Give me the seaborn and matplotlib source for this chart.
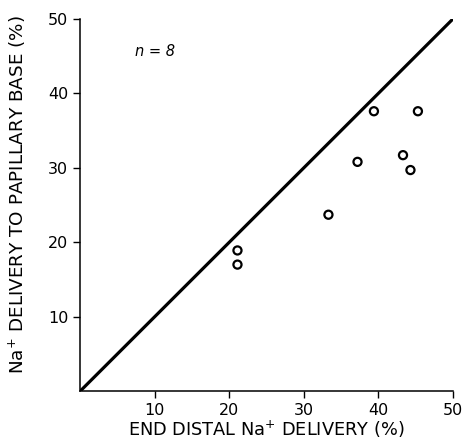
import matplotlib
matplotlib.use("Agg")
import matplotlib.pyplot as plt
import seaborn as sns
import pandas as pd

# end distal delivery (%) vs delivery to papillary base (%)
distal = [39.4, 45.3, 37.2, 43.3, 44.3, 33.3, 21.1, 21.1]
papillary = [37.6, 37.6, 30.8, 31.7, 29.7, 23.7, 18.9, 17.0]
identity = [0, 50]
ticks = [10, 20, 30, 40, 50]

sns.set_style("ticks")
plt.rcParams["font.family"] = ["DejaVu Sans"]
plt.rcParams["mathtext.fontset"] = "dejavusans"

df = pd.DataFrame({"distal": distal, "papillary": papillary})

fig = plt.figure(figsize=(4.66, 4.4), dpi=100)
ax = fig.add_axes([0.172, 0.111, 0.800, 0.846])

sns.lineplot(x=identity, y=identity, color="black", linewidth=2.3, ax=ax)
sns.scatterplot(data=df, x="distal", y="papillary", marker="o", s=34,
                facecolor="none", edgecolor="black", linewidth=1.6, ax=ax,
                zorder=3)

ax.set_xlim(0, 50)
ax.set_ylim(0, 50)
ax.set_xticks(ticks)
ax.set_yticks(ticks)
ax.tick_params(labelsize=11.5, length=5, width=1, colors="black")
sns.despine(ax=ax)
for sp in ax.spines.values():
    sp.set_linewidth(1.1)
    sp.set_color("black")

ax.set_xlabel(r"END DISTAL Na$^{+}$ DELIVERY (%)", fontsize=12.8, color="black")
ax.set_ylabel(r"Na$^{+}$ DELIVERY TO PAPILLARY BASE (%)", fontsize=13.2,
              color="black")
ax.xaxis.set_label_coords(0.5, -0.075)
ax.yaxis.set_label_coords(-0.14, 0.527)
ax.text(7.3, 45.6, "n = 8", fontsize=10.5, style="italic", va="center",
        color="black")

fig.savefig("out.png", dpi=100)
